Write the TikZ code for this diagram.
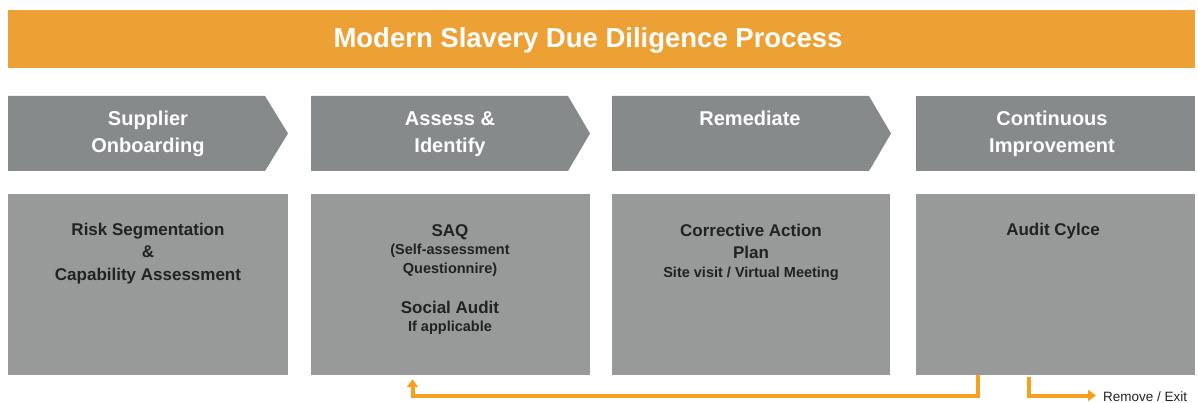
\documentclass[tikz,border=0pt]{standalone}
\usepackage{fontspec}
\setmainfont{Liberation Sans}
\usetikzlibrary{arrows.meta}
\definecolor{banner}{HTML}{EDA034}
\definecolor{flowline}{HTML}{F6A020}
\definecolor{stagegray}{HTML}{868A8B}
\definecolor{panelgray}{HTML}{989A9A}
\definecolor{inktext}{HTML}{222222}
\begin{document}
\begin{tikzpicture}[x=1pt,y=-1pt,
  titletext/.style={anchor=base,inner sep=0,text=white,font=\fontsize{27.5}{30}\selectfont\bfseries},
  stagetext/.style={anchor=base,inner sep=0,text=white,font=\fontsize{20}{24}\selectfont\bfseries},
  mainline/.style={anchor=base,inner sep=0,text=inktext,font=\fontsize{17}{20}\selectfont\bfseries},
  subline/.style={anchor=base,inner sep=0,text=inktext,font=\fontsize{14.5}{17}\selectfont\bfseries},
  panel/.style={fill=panelgray,inner sep=0,minimum height=181pt},
  flow/.style={draw=flowline,line width=4pt,-{Triangle[length=8pt,width=11pt]}}
]
\path[use as bounding box] (0,0) rectangle (1198,403);

% title banner
\node[fill=banner,inner sep=0,minimum width=1187pt,minimum height=58pt] (banner) at (601.5,39) {};
\node[titletext] (bannertext) at (588,47.5) {Modern Slavery Due Diligence Process};

% stage chevrons
\fill[stagegray] (8,96) -- (265,96) -- (288,133.5) -- (265,171) -- (8,171) -- cycle;
\fill[stagegray] (311,96) -- (568,96) -- (590,133.5) -- (568,171) -- (311,171) -- cycle;
\fill[stagegray] (612,96) -- (869,96) -- (891,133.5) -- (869,171) -- (612,171) -- cycle;
\fill[stagegray] (916,96) rectangle (1195,171);

\node[stagetext] (s1a) at (148,126) {Supplier};
\node[stagetext] (s1b) at (148,153) {Onboarding};
\node[stagetext] (s2a) at (450,126) {Assess \&};
\node[stagetext] (s2b) at (450,153) {Identify};
\node[stagetext] (s3a) at (750,126) {Remediate};
\node[stagetext] (s4a) at (1052,126) {Continuous};
\node[stagetext] (s4b) at (1052,153) {Improvement};

% detail panels
\node[panel,minimum width=280pt] (p1) at (148,284.5) {};
\node[panel,minimum width=279pt] (p2) at (450.5,284.5) {};
\node[panel,minimum width=278pt] (p3) at (751,284.5) {};
\node[panel,minimum width=279pt] (p4) at (1055.5,284.5) {};

\node[mainline] (d1a) at (148,235.5) {Risk Segmentation};
\node[mainline] (d1b) at (148,258) {\&};
\node[mainline] (d1c) at (148,280.5) {Capability Assessment};

\node[mainline] (d2a) at (450,236.5) {SAQ};
\node[subline]  (d2b) at (450,254.5) {(Self-assessment};
\node[subline]  (d2c) at (450,273.5) {Questionnire)};
\node[mainline] (d2d) at (450,313.5) {Social Audit};
\node[subline]  (d2e) at (450,331.5) {If applicable};

\node[mainline] (d3a) at (751,236.5) {Corrective Action};
\node[mainline] (d3b) at (751,258.5) {Plan};
\node[subline]  (d3c) at (751,277.5) {Site visit / Virtual Meeting};

\node[mainline] (d4a) at (1053,235.5) {Audit Cylce};

% feedback loop and exit route
\draw[flow] ([xshift=-77.5pt]p4.south) -- ++(0,21) -| ([xshift=-38pt,yshift=-4pt]p2.south);
\coordinate (exittip) at (1096,395.5);
\draw[flow] ([xshift=-26.5pt,yshift=-2pt]p4.south) |- (exittip);
\node[anchor=base west,inner sep=0,text=inktext,font=\fontsize{13.5}{16}\selectfont] (exit) at (1103,401) {Remove / Exit};
\end{tikzpicture}
\end{document}
